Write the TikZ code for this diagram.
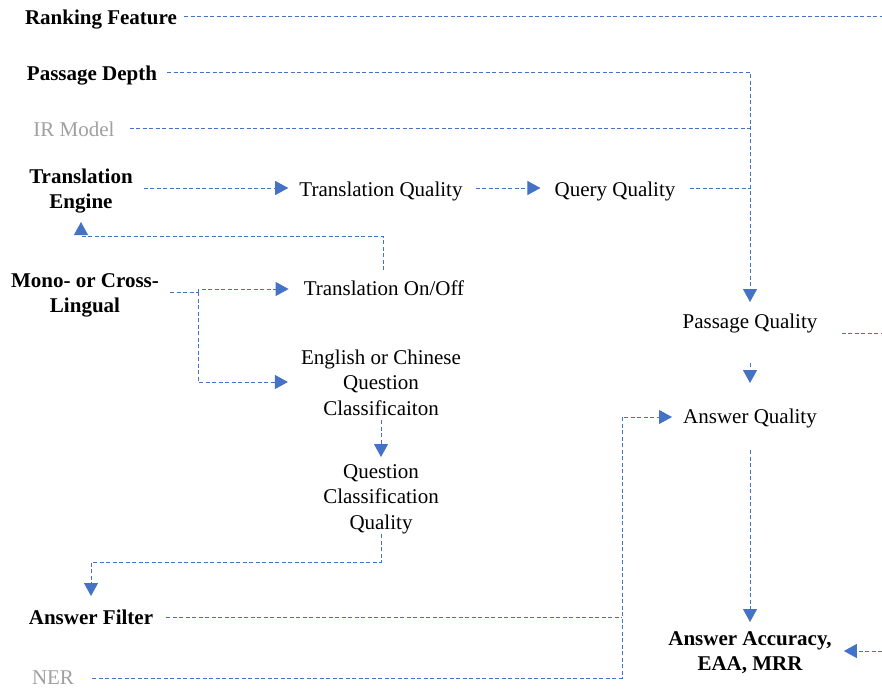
\documentclass[tikz,border=0pt]{standalone}
\usepackage{fontspec}
\setmainfont{Liberation Serif}
\usetikzlibrary{arrows.meta}
\definecolor{lineblue}{RGB}{68,114,196}
\definecolor{greytext}{RGB}{160,160,160}
\begin{document}
\begin{tikzpicture}[x=1pt,y=-1pt,
  lbl/.style={font=\fontsize{21}{25.5}\selectfont, align=center, inner sep=0pt, anchor=base},
  bl/.style={lbl, font=\bfseries\fontsize{21}{25.5}\selectfont},
  gr/.style={lbl, text=greytext},
  conn/.style={draw=lineblue, line width=0.9pt, dash pattern=on 4pt off 2.5pt},
  arr/.style={conn, -{Triangle[length=13pt,width=14pt]}},
]
\useasboundingbox (0,0) rectangle (882,688);

% nodes (positioned at baseline of last line)
\node[bl] (rank)  at (101,24)  {Ranking Feature};
\node[bl] (depth) at (92,80)   {Passage Depth};
\node[gr] (ir)    at (74,136)  {IR Model};
\node[bl] (te)    at (81,208.5) {Translation\\Engine};
\node[lbl] (tq)   at (381,196) {Translation Quality};
\node[lbl] (qq)   at (615,196) {Query Quality};
\node[bl] (mono)  at (85,312.5) {Mono- or Cross-\\Lingual};
\node[lbl] (onoff) at (384,295) {Translation On/Off};
\node[lbl] (ecq)  at (381,415) {English or Chinese\\Question\\Classificaiton};
\node[lbl] (qcq)  at (381,529) {Question\\Classification\\Quality};
\node[bl] (af)    at (91,624)  {Answer Filter};
\node[gr] (ner)   at (53,684)  {NER};
\node[lbl] (pq)   at (750,328) {Passage Quality};
\node[lbl] (aq)   at (750,423) {Answer Quality};
\node[bl] (acc)   at (750,670.5) {Answer Accuracy,\\EAA, MRR};

% junction / free-end coordinates
\coordinate (rkE)  at (882,16);
\coordinate (irJ)  at (750,128);
\coordinate (qqJ)  at (750,188);
\coordinate (br)   at (198,292);
\coordinate (afJ)  at (622,617);
\coordinate (nerJ) at (622,678);
\coordinate (pqE)  at (882,333);
\coordinate (accE) at (882,651);

% connectors
\draw[conn] ([xshift=7pt,yshift=8pt]rank.base east) -- (rkE);
\draw[arr] ([xshift=10pt,yshift=8pt]depth.base east) -| ([yshift=26pt]pq.base);
\draw[conn] ([xshift=15pt,yshift=8pt]ir.base east) -- (irJ);
\draw[arr] ([xshift=11pt,yshift=20.5pt]te.base east) -- ([xshift=-11pt,yshift=8pt]tq.base west);
\draw[arr] ([xshift=13pt,yshift=8pt]tq.base east) -- ([xshift=-14pt,yshift=8pt]qq.base west);
\draw[conn] ([xshift=14pt,yshift=8pt]qq.base east) -- (qqJ);
\draw[arr] ([xshift=-1pt,yshift=25pt]onoff.base) -- ++(0,-34) -| ([yshift=-13.5pt]te.base);
\draw[conn] ([xshift=11pt,yshift=20.5pt]mono.base east) -- (br);
\draw[arr] (br) |- ([xshift=-15pt,yshift=6pt]onoff.base west);
\draw[arr] (br) |- ([xshift=-13pt,yshift=33pt]ecq.base west);
\draw[arr] ([yshift=-5pt]ecq.base) -- ([yshift=72pt]qcq.base);
\draw[arr] ([yshift=-5pt]qcq.base) -- ++(0,28) -| ([yshift=28pt]af.base);
\draw[conn] ([xshift=13pt,yshift=7pt]af.base east) -- (afJ);
\draw[arr] ([xshift=18pt,yshift=6pt]ner.base east) -- (nerJ) |- ([xshift=-11pt,yshift=6pt]aq.base west);
\draw[conn] ([xshift=24pt,yshift=-5pt]pq.base east) -- (pqE);
\draw[arr] ([yshift=-35pt]pq.base) -- ([yshift=40pt]aq.base);
\draw[arr] ([yshift=-27pt]aq.base) -- ([yshift=48.5pt]acc.base);
\draw[arr] (accE) -- ([xshift=12pt,yshift=19.5pt]acc.base east);
\end{tikzpicture}
\end{document}
